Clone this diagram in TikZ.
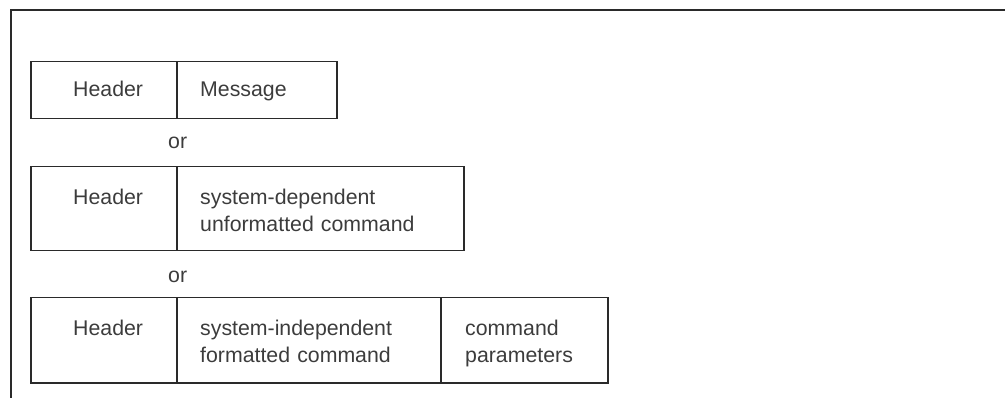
\documentclass[tikz,border=0pt]{standalone}
\usepackage{fontspec}
\setmainfont{Liberation Sans}
\definecolor{txtc}{HTML}{3C3C3C}
\definecolor{linec}{HTML}{2A2A2A}
\begin{document}
\begin{tikzpicture}[x=1pt,y=-1pt,
  cell/.style={draw=linec,line width=1.5pt,anchor=north west,inner sep=0pt,minimum width=#1},
  lbl/.style={anchor=base west,inner sep=0pt,text=txtc,font=\fontsize{21.3}{26.8}\selectfont,align=left},
  frame/.style={draw=linec,line width=1.7pt}]
\useasboundingbox (0,0) rectangle (1005,398);
\coordinate (ftop) at (1005,10);
\coordinate (fcorner) at (11,10);
\coordinate (fbot) at (11,398);
\draw[frame] (fbot) -- (fcorner) -- (ftop);
% box 1
\node[cell=146pt,minimum height=57pt] (h1) at (30,61) {};
\node[cell=160pt,minimum height=57pt] (m1) at (176,61) {};
\node[lbl] (th1) at (73,96.7) {Header};
\node[lbl] (tm1) at (200,96.7) {Message};
\node[lbl] (or1) at (168,148.3) {or};
% box 2
\node[cell=146pt,minimum height=84pt] (h2) at (30,166) {};
\node[cell=287pt,minimum height=84pt] (m2) at (176,166) {};
\node[lbl] (th2) at (73,205) {Header};
\node[lbl,text width=250pt] (tm2) at (200,205) {system-dependent\\unformatted command};
\node[lbl] (or2) at (168,283) {or};
% box 3
\node[cell=146pt,minimum height=85pt] (h3) at (30,297) {};
\node[cell=264pt,minimum height=85pt] (m3) at (176,297) {};
\node[cell=167pt,minimum height=85pt] (p3) at (440,297) {};
\node[lbl] (th3) at (73,336) {Header};
\node[lbl,text width=230pt] (tm3) at (200,336) {system-independent\\formatted command};
\node[lbl,text width=140pt] (tp3) at (465,336) {command\\parameters};
\end{tikzpicture}
\end{document}
